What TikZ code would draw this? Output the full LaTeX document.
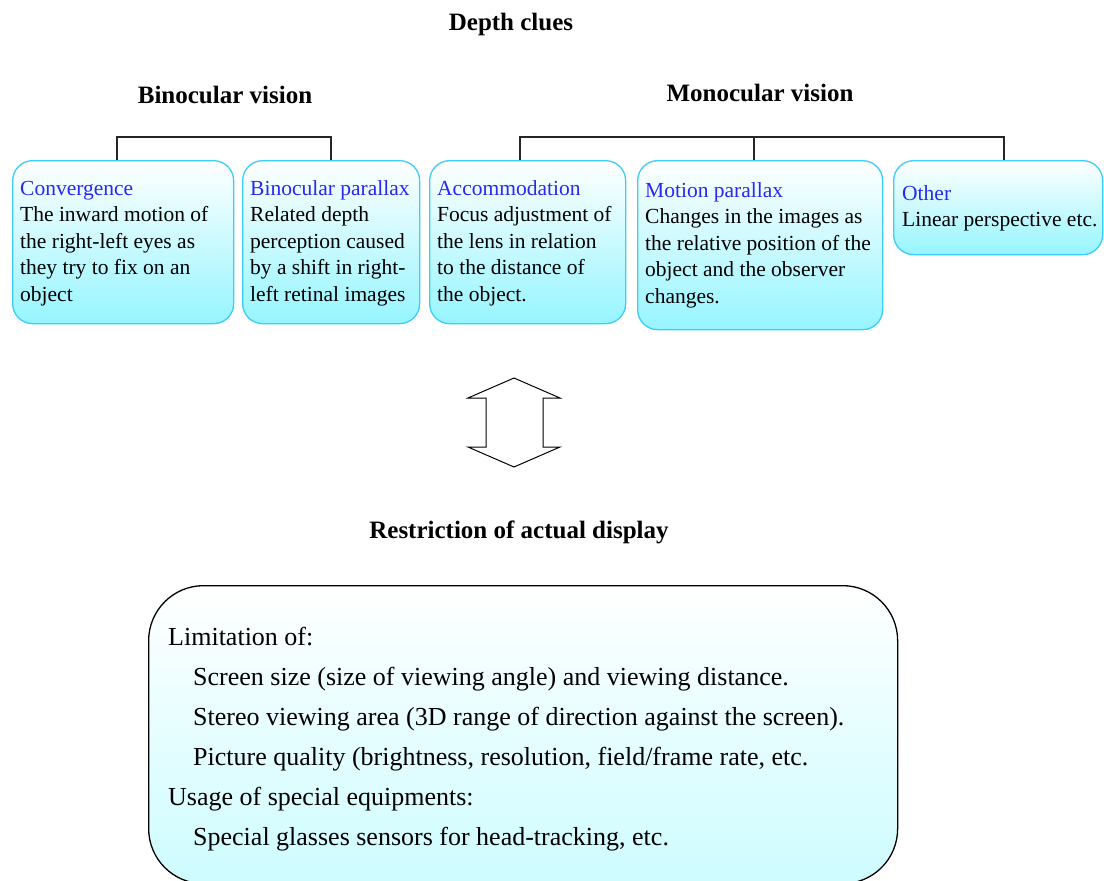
\documentclass[tikz,border=0pt]{standalone}
\usepackage{fontspec}
\setmainfont{Liberation Serif}
\definecolor{tblue}{RGB}{40,40,240}
\definecolor{bcyan}{RGB}{60,205,250}
\definecolor{fcyan}{RGB}{150,245,255}
\definecolor{fcyan2}{RGB}{205,252,255}
\tikzset{
  cluebox/.style={draw=bcyan, line width=1.3pt, rounded corners=20pt, top color=white, bottom color=fcyan, anchor=north west, inner sep=0pt},
  cluetext/.style={anchor=north west, inner sep=0pt, align=left, font=\fontsize{21.5}{26.5}\selectfont},
  heading/.style={anchor=base, inner sep=0pt, font=\bfseries\fontsize{25}{30}\selectfont},
  bracket/.style={draw=black!85, line width=1.5pt},
  bigtext/.style={anchor=north west, inner sep=0pt, align=left, font=\fontsize{26}{40}\selectfont},
}
\newcommand{\ttl}[1]{\textcolor{tblue}{#1}}
\newcommand{\ind}{\hspace*{25pt}}
\begin{document}
\begin{tikzpicture}[x=1pt,y=-1pt]
\useasboundingbox (0,0) rectangle (1104,881);
\clip (0,0) rectangle (1104,881);
% headings
\node[heading] (depth) at (511,30) {Depth clues};
\node[heading] (bin) at (225,103) {Binocular vision};
\node[heading] (mon) at (760,101) {Monocular vision};
% boxes
\node[cluebox, minimum width=221pt, minimum height=163pt] (conv) at (12,160) {};
\node[cluebox, minimum width=177pt, minimum height=163pt] (bpar) at (242,160) {};
\node[cluebox, minimum width=196pt, minimum height=163pt] (acc) at (429,160) {};
\node[cluebox, minimum width=245pt, minimum height=169pt] (mpar) at (637,160) {};
\node[cluebox, minimum width=209pt, minimum height=94pt] (oth) at (893,160) {};
% texts
\node[cluetext] (convt) at (20,176.5) {\strut\ttl{Convergence}\\The inward motion of\\the right-left eyes as\\they try to fix on an\\object};
\node[cluetext] (bpart) at (250,176.5) {\strut\ttl{Binocular parallax}\\Related depth\\perception caused\\by a shift in right-\\left retinal images};
\node[cluetext] (acct) at (437,176.5) {\strut\ttl{Accommodation}\\Focus adjustment of\\the lens in relation\\to the distance of\\the object.};
\node[cluetext] (mpart) at (645,178.5) {\strut\ttl{Motion parallax}\\Changes in the images as\\the relative position of the\\object and the observer\\changes.};
\node[cluetext] (otht) at (902,181.5) {\strut\ttl{Other}\\Linear perspective etc.};
% brackets
\coordinate (b1) at (117,137);
\coordinate (b2) at (331,137);
\coordinate (m1) at (520,137);
\coordinate (m2) at (754,137);
\coordinate (m3) at (1004,137);
\draw[bracket] (conv.north -| b1) -- (b1) -- (b2) -- (bpar.north -| b2);
\draw[bracket] (acc.north -| m1) -- (m1) -- (m3) -- (oth.north -| m3);
\draw[bracket] (m2) -- (mpar.north -| m2);
% double arrow
\draw[line width=1pt, fill=white, line join=miter] (514,378) -- (560,398) -- (543,398) -- (543,447) -- (560,447) -- (514,467) -- (468,447) -- (486,447) -- (486,398) -- (468,398) -- cycle;
% restriction
\node[heading] (restr) at (519,538) {Restriction of actual display};
\node[draw=black, line width=1.3pt, rounded corners=55pt, top color=white, bottom color=fcyan2, anchor=north west, inner sep=0pt, minimum width=749pt, minimum height=298pt] (disp) at (148,585) {};
\node[bigtext] (dispt) at (168,617) {\strut Limitation of:\\\ind Screen size (size of viewing angle) and viewing distance.\\\ind Stereo viewing area (3D range of direction against the screen).\\\ind Picture quality (brightness, resolution, field/frame rate, etc.\\Usage of special equipments:\\\ind Special glasses sensors for head-tracking, etc.};
\end{tikzpicture}
\end{document}
